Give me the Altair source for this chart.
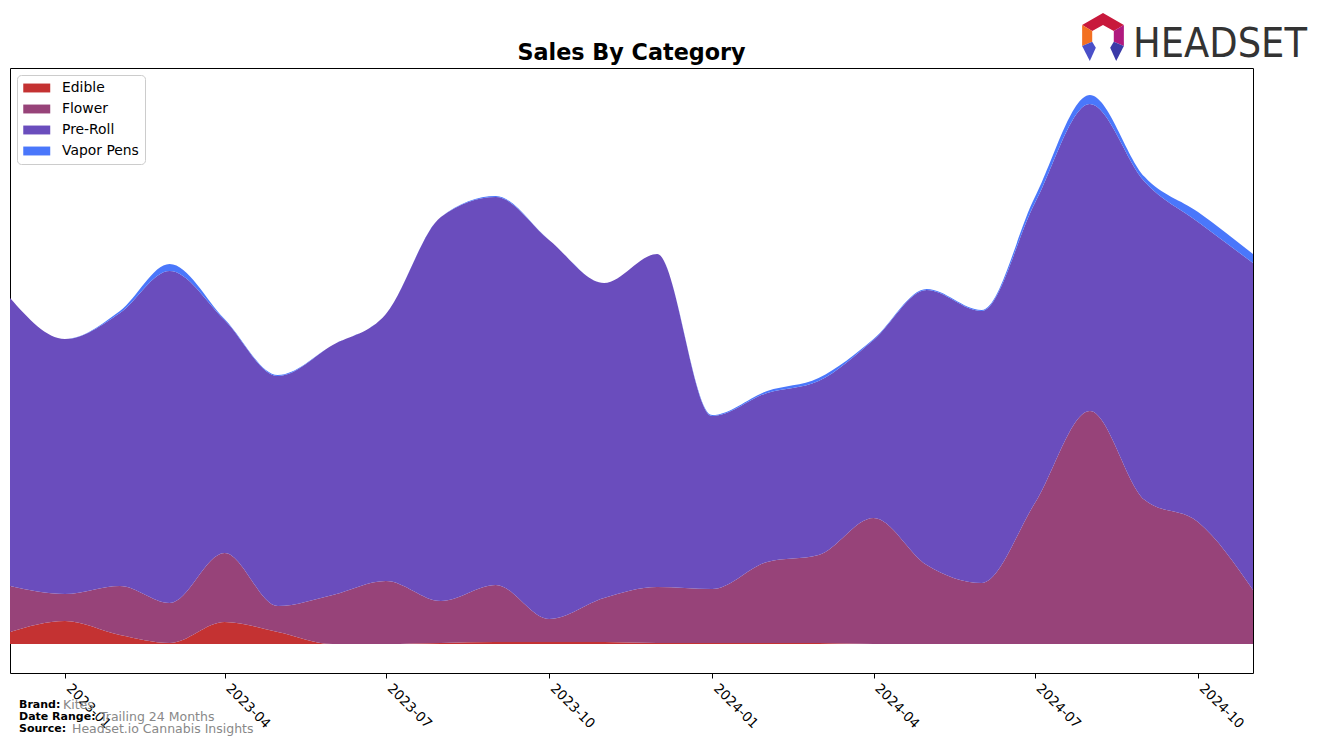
import altair as alt
import pandas as pd

# ---------------- data ----------------
months = [
    "2022-12-01", "2023-01-01", "2023-02-01", "2023-03-01", "2023-04-01", "2023-05-01",
    "2023-06-01", "2023-07-01", "2023-08-01", "2023-09-01", "2023-10-01", "2023-11-01",
    "2023-12-01", "2024-01-01", "2024-02-01", "2024-03-01", "2024-04-01", "2024-05-01",
    "2024-06-01", "2024-07-01", "2024-08-01", "2024-09-01", "2024-10-01", "2024-11-01",
]
categories = ["Edible", "Flower", "Pre-Roll", "Vapor Pens"]
edible = [12, 23, 9, 1, 22, 12, 0, 0, 1, 2, 2, 2, 1, 1, 1, 1, 0, 0, 0, 0, 0, 0, 0, 0]
flower = [46, 27, 49, 40, 69, 26, 49, 63, 42, 57, 23, 44, 56, 54, 81, 88, 126, 79, 61, 141, 233, 144, 122, 54]
pre_roll = [288, 255, 273, 332, 233, 230, 250, 267, 384, 388, 379, 315, 333, 173, 169, 174, 178, 275, 272, 300, 307, 318, 300, 327]
vapor_pens = [0, 0, 2, 7, 1, 1, 0, 0, 0, 1, 0, 0, 0, 1, 2, 3, 1, 1, 1, 6, 9, 5, 10, 9]
colors = ["#c43232", "#974379", "#6a4dbd", "#4a77fb"]
tick_years_months = [(2023, 1), (2023, 4), (2023, 7), (2023, 10), (2024, 1), (2024, 4), (2024, 7), (2024, 10)]

title_text = "Sales By Category"
footer_labels = ["Brand:", "Date Range:", "Source:"]
footer_values = ["Kites", "Trailing 24 Months", "Headset.io Cannabis Insights"]

# ---------------- table ----------------
series = [edible, flower, pre_roll, vapor_pens]
rows = []
for ci, (cat, vals) in enumerate(zip(categories, series)):
    for m, v in zip(months, vals):
        rows.append({"month": m, "category": cat, "sales": v, "order": ci})
df = pd.DataFrame(rows)

W, H = 1243, 605
FONT = "DejaVu Sans"

areas = alt.Chart(df).mark_area(interpolate="monotone", opacity=1).encode(
    x=alt.X(
        "month:T",
        scale=alt.Scale(
            type="utc",
            domain=[alt.DateTime(year=2022, month=12, date=1, utc=True),
                    alt.DateTime(year=2024, month=11, date=1, utc=True)],
            nice=False,
        ),
        axis=alt.Axis(
            values=[alt.DateTime(year=y, month=mo, date=1, utc=True) for y, mo in tick_years_months],
            format="%Y-%m", labelAngle=45, labelAlign="left", labelBaseline="top",
            tickSize=5, tickColor="black", labelPadding=3, labelOffset=8, labelFontSize=13.5,
            labelFont=FONT, labelColor="black", domain=False, grid=False, title=None,
        ),
    ),
    y=alt.Y("sales:Q", stack="zero",
            scale=alt.Scale(domain=[-29, 576], nice=False, zero=False), axis=None),
    color=alt.Color(
        "category:N",
        scale=alt.Scale(domain=categories, range=colors),
        legend=alt.Legend(
            title=None, orient="none", legendX=7, legendY=7,
            symbolType="M-1,-0.66H3V0.66H-1Z", symbolSize=182, symbolStrokeWidth=0,
            symbolOpacity=1, labelFontSize=13.9, labelFont=FONT, labelColor="black",
            labelOffset=25, rowPadding=7, padding=6, strokeColor="#cccccc",
            cornerRadius=4, fillColor="white",
        ),
    ),
    order=alt.Order("order:Q", sort="ascending"),
)

one = alt.Data(values=[{}])

title = alt.Chart(one).mark_text(text=title_text, align="center", baseline="alphabetic",
                                 font=FONT, fontSize=22.3, fontWeight="bold", color="black"
                                 ).encode(x=alt.value(W / 2), y=alt.value(-8))

# footer texts
footer = []
label_x = [9, 9, 9]
value_x = [53, 90, 62]
ys = [637, 649, 661]
for lab, val, lx, vx, yy in zip(footer_labels, footer_values, label_x, value_x, ys):
    footer.append(alt.Chart(one).mark_text(text=lab, align="left", baseline="middle",
                                           font=FONT, fontSize=11, fontWeight="bold",
                                           color="black").encode(x=alt.value(lx), y=alt.value(yy)))
    footer.append(alt.Chart(one).mark_text(text=val, align="left", baseline="middle",
                                           font=FONT, fontSize=12.5, color="#888888")
                  .encode(x=alt.value(vx), y=alt.value(yy)))

# Headset logo (decoration)
logo_parts = [
    ("M-0.87,-0.5L0,-1L0.87,-0.5L0.45,-0.25L0,-0.5L-0.45,-0.25Z", "#c8193c"),
    ("M-0.87,-0.5L-0.45,-0.25L-0.45,0.2L-0.87,0.38Z", "#f37021"),
    ("M0.87,-0.5L0.87,0.38L0.45,0.2L0.45,-0.25Z", "#b0197e"),
    ("M-0.87,0.38L-0.45,0.2L-0.3,0.45L-0.55,1Z", "#4a4fc8"),
    ("M0.87,0.38L0.45,0.2L0.3,0.45L0.55,1Z", "#3b3aa8"),
]
logo = []
for path, col in logo_parts:
    logo.append(alt.Chart(one).mark_point(shape=path, filled=True, size=2300, opacity=1,
                                          color=col, strokeWidth=0)
                .encode(x=alt.value(1093), y=alt.value(-31)))
logo.append(alt.Chart(one).mark_text(text="HEADSET", align="left", baseline="alphabetic",
                                      font="DejaVu Sans Condensed, Liberation Sans Narrow, Open Sans, sans-serif",
                                      fontSize=41, color="#333333")
            .encode(x=alt.value(1123), y=alt.value(-11)))

chart = alt.layer(areas, title, *footer, *logo).properties(
    width=W, height=H,
    autosize=alt.AutoSizeParams(type="none"),
    padding={"left": 10, "top": 68, "right": 64, "bottom": 73},
    background="white",
).configure_view(stroke="black", strokeWidth=1)

chart.save("out.html", embed_options={"renderer": "svg", "actions": False})
